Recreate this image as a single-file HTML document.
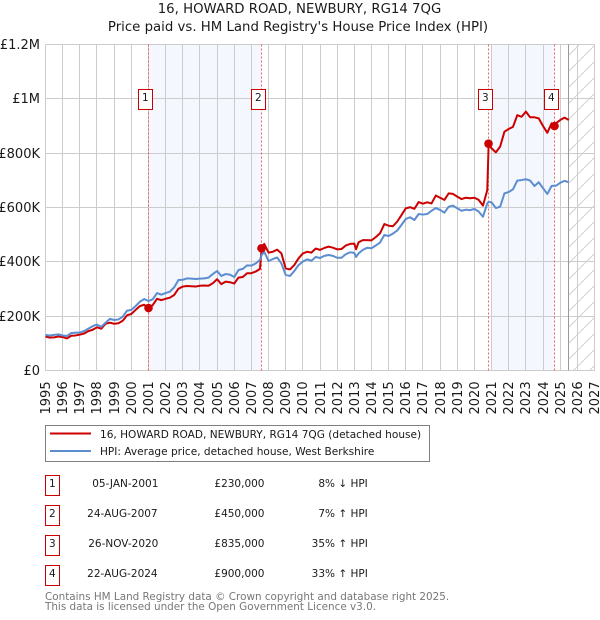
<!DOCTYPE html>
<html>
<head>
<meta charset="utf-8">
<title>16, HOWARD ROAD, NEWBURY, RG14 7QG</title>
<style>
html,body{margin:0;padding:0;background:#fff;}
svg{display:block;}
text{font-family:"DejaVu Sans","Liberation Sans",sans-serif;fill:#1a1a1a;}
</style>
</head>
<body>
<svg id="chart" width="600" height="620" viewBox="0 0 600 620" xmlns="http://www.w3.org/2000/svg">
  <defs>
    <pattern id="hatch" patternUnits="userSpaceOnUse" width="16" height="16">
      <line x1="0" y1="16" x2="16" y2="0" stroke="#d2d2d2" stroke-width="1"></line>
    </pattern>
    <clipPath id="plot-clip"><rect x="45" y="44" width="550" height="327"></rect></clipPath>
  </defs>
  <text x="299.5" y="13" text-anchor="middle" font-size="13.3">16, HOWARD ROAD, NEWBURY, RG14 7QG</text>
  <text x="298" y="31" text-anchor="middle" font-size="13.3">Price paid vs. HM Land Registry's House Price Index (HPI)</text>
  <g id="plot"></g>

  <g>
    <rect x="45.5" y="425.5" width="384" height="36" fill="#fff" stroke="#808080" stroke-width="1"></rect>
    <line x1="50" y1="433.5" x2="91" y2="433.5" stroke="#cc0000" stroke-width="2"></line>
    <text x="100" y="438" font-size="10.55">16, HOWARD ROAD, NEWBURY, RG14 7QG (detached house)</text>
    <line x1="50" y1="451" x2="91" y2="451" stroke="#5b8dd0" stroke-width="2"></line>
    <text x="100" y="455" font-size="10.55">HPI: Average price, detached house, West Berkshire</text>
  </g>

  <g font-size="10.5">
    <g>
      <rect x="45.5" y="475.5" width="14" height="20" fill="#fff" stroke="#cc0000"></rect>
      <text x="52.3" y="487" text-anchor="middle">1</text>
      <text x="125.3" y="487" text-anchor="middle">05-JAN-2001</text>
      <text x="264.5" y="487" text-anchor="end">£230,000</text>
      <text x="367.8" y="487" text-anchor="end">8% ↓ HPI</text>
    </g>
    <g>
      <rect x="45.5" y="505.5" width="14" height="20" fill="#fff" stroke="#cc0000"></rect>
      <text x="52.3" y="517" text-anchor="middle">2</text>
      <text x="122.4" y="517" text-anchor="middle">24-AUG-2007</text>
      <text x="264.5" y="517" text-anchor="end">£450,000</text>
      <text x="367.8" y="517" text-anchor="end">7% ↑ HPI</text>
    </g>
    <g>
      <rect x="45.5" y="535.5" width="14" height="20" fill="#fff" stroke="#cc0000"></rect>
      <text x="52.3" y="547" text-anchor="middle">3</text>
      <text x="123.3" y="547" text-anchor="middle">26-NOV-2020</text>
      <text x="264.5" y="547" text-anchor="end">£835,000</text>
      <text x="367.8" y="547" text-anchor="end">35% ↑ HPI</text>
    </g>
    <g>
      <rect x="45.5" y="565.5" width="14" height="20" fill="#fff" stroke="#cc0000"></rect>
      <text x="52.3" y="577" text-anchor="middle">4</text>
      <text x="122.4" y="577" text-anchor="middle">22-AUG-2024</text>
      <text x="264.5" y="577" text-anchor="end">£900,000</text>
      <text x="367.8" y="577" text-anchor="end">33% ↑ HPI</text>
    </g>
  </g>

  <text x="45" y="600" font-size="10.4" style="fill:#777777">Contains HM Land Registry data © Crown copyright and database right 2025.</text>
  <text x="45" y="610" font-size="10.4" style="fill:#777777">This data is licensed under the Open Government Licence v3.0.</text>
</svg>
<script>
var dates = [
1995,1995.25,1995.5,1995.75,1996,1996.25,1996.5,1996.75,1997,1997.25,1997.5,1997.75,
1998,1998.25,1998.5,1998.75,1999,1999.25,1999.5,1999.75,2000,2000.25,2000.5,2000.75,
2001,2001.25,2001.5,2001.75,2002,2002.25,2002.5,2002.75,2003,2003.25,2003.5,2003.75,
2004,2004.25,2004.5,2004.75,2005,2005.25,2005.5,2005.75,2006,2006.25,2006.5,2006.75,
2007,2007.25,2007.5,2007.6,2007.75,2008,2008.25,2008.5,2008.75,2009,2009.25,2009.5,2009.75,
2010,2010.25,2010.5,2010.75,2011,2011.25,2011.5,2011.75,2012,2012.25,2012.5,2012.75,
2013,2013.1,2013.25,2013.5,2013.75,2014,2014.25,2014.5,2014.75,2015,2015.25,2015.5,2015.75,
2016,2016.25,2016.5,2016.75,2017,2017.25,2017.5,2017.75,2018,2018.25,2018.5,2018.75,
2019,2019.25,2019.5,2019.75,2020,2020.25,2020.5,2020.75,2020.83,2021,2021.25,2021.5,2021.75,
2022,2022.25,2022.5,2022.75,2023,2023.25,2023.5,2023.75,2024,2024.25,2024.5,2024.64,2024.75,
2025,2025.25,2025.5
];
var hpiValues = [
131,129,131,133,129,127,138,139,140,145,154,163,
169,161,176,190,186,188,198,220,223,237,253,263,
256,262,285,279,285,290,306,333,334,339,338,337,
338,339,342,355,366,348,355,353,344,370,374,387,
386,394,407,425,437,403,410,416,394,352,348,366,388,
401,409,404,418,414,422,425,422,415,415,428,435,
433,418,431,444,452,450,460,471,499,495,504,515,536,
558,564,554,576,574,576,588,598,591,581,603,607,
597,588,592,590,595,585,566,615,621,619,598,603,652,
657,667,699,701,704,699,679,693,671,650,679,680,680,
691,698,693
];
var priceValues = [
125,121,122,125,123,118,128,129,132,136,145,150,
159,154,172,176,172,174,183,203,208,223,237,242,
229,241,264,259,264,268,278,301,309,311,310,309,
312,313,312,321,336,318,327,325,320,342,344,358,
358,364,374,450,466,434,437,445,431,376,372,388,413,
431,437,434,449,444,451,456,452,446,447,460,466,
467,446,472,480,480,479,491,505,539,533,531,548,572,
597,601,595,620,614,619,615,644,636,628,652,650,
640,631,636,634,636,628,607,664,835,818,803,824,879,
889,897,940,934,953,932,932,928,900,875,910,900,910,
922,931,922
];
var yTickValues = [0,200,400,600,800,1000,1200];
var yTickLabels = ["£0","£200K","£400K","£600K","£800K","£1M","£1.2M"];
var xTickYears = [1995,1996,1997,1998,1999,2000,2001,2002,2003,2004,2005,2006,2007,2008,2009,2010,2011,2012,2013,2014,2015,2016,2017,2018,2019,2020,2021,2022,2023,2024,2025,2026,2027];
var saleLabels = ["1","2","3","4"];
var saleDates = [2001.01,2007.6,2020.83,2024.64];
var salePrices = [230,450,835,900];
var shadedSpans = [[2001.01,2007.6],[2021,2024.64]];
var dataEndYear = 2025.5;

var NS = 'http://www.w3.org/2000/svg';
var plot = document.getElementById('plot');
var L = 45.5, R = 594.5, T = 44.5, B = 370.5;
function xScale(y){ return L + (y - 1995) / 32 * (R - L); }
function yScale(v){ return B - v / 1200 * (B - T); }
function snap(p){ return Math.floor(p) + 0.5; }
function make(tag, attrs){
  var el = document.createElementNS(NS, tag);
  for (var k in attrs) el.setAttribute(k, attrs[k]);
  return el;
}
var i, el;

shadedSpans.forEach(function(s){
  var el = make('rect', {x: snap(xScale(s[0])), y: T, width: snap(xScale(s[1])) - snap(xScale(s[0])), height: B - T, fill: '#f4f7fe'});
  
  
  plot.appendChild(el);
});

xTickYears.forEach(function(y){
  var x = snap(xScale(y));
  var el = make('line', {x1: x, x2: x, y1: T, y2: B, stroke: '#cccccc', 'stroke-width': 1});
  
  
  plot.appendChild(el);
  var t = make('text', {transform: 'translate(' + (x + 4.5) + ',414.5) rotate(-90)', 'font-size': 13});
  t.textContent = String(y);
  
  
  plot.appendChild(t);
});

yTickValues.forEach(function(v, idx){
  var y = snap(yScale(v));
  var el = make('line', {x1: L, x2: R, y1: y, y2: y, stroke: '#cccccc', 'stroke-width': 1});
  
  
  plot.appendChild(el);
  var t = make('text', {x: 40, y: y + 4.5, 'text-anchor': 'end', 'font-size': 13});
  t.textContent = yTickLabels[idx];
  
  
  plot.appendChild(t);
});

var hx = snap(xScale(dataEndYear));
el = make('rect', {x: hx, y: T, width: R - hx, height: B - T, fill: 'url(#hatch)'});


plot.appendChild(el);
el = make('line', {x1: hx, x2: hx, y1: T, y2: B, stroke: '#999999', 'stroke-width': 1});


plot.appendChild(el);

saleDates.forEach(function(d){
  var x = snap(xScale(d));
  var el = make('line', {x1: x, x2: x, y1: T, y2: B, stroke: '#f06060', 'stroke-width': 1, 'stroke-dasharray': '2 2'});
  
  
  plot.appendChild(el);
});

function linePath(values){
  var d = '';
  for (var j = 0; j < dates.length; j++) {
    d += (j ? 'L' : 'M') + xScale(dates[j]).toFixed(2) + ' ' + yScale(values[j]).toFixed(2);
  }
  return d;
}
el = make('path', {d: linePath(priceValues), fill: 'none', stroke: '#cc0000', 'stroke-width': 2, 'stroke-linejoin': 'round', 'clip-path': 'url(#plot-clip)'});


plot.appendChild(el);
el = make('path', {d: linePath(hpiValues), fill: 'none', stroke: '#5b8dd0', 'stroke-width': 2, 'stroke-linejoin': 'round', 'clip-path': 'url(#plot-clip)'});


plot.appendChild(el);

saleDates.forEach(function(d, idx){
  var x = snap(xScale(d));
  var c = make('circle', {cx: x, cy: yScale(salePrices[idx]), r: 4.3, fill: '#cc0000'});
  
  
  plot.appendChild(c);
  var b = make('rect', {x: x - 10, y: 89.5, width: 14, height: 20, fill: '#fff', stroke: '#cc0000', 'stroke-width': 1});
  
  
  plot.appendChild(b);
  var t = make('text', {x: x - 3.2, y: 101, 'text-anchor': 'middle', 'font-size': 10.5});
  t.textContent = saleLabels[idx];
  
  
  plot.appendChild(t);
});
</script>
</body>
</html>
